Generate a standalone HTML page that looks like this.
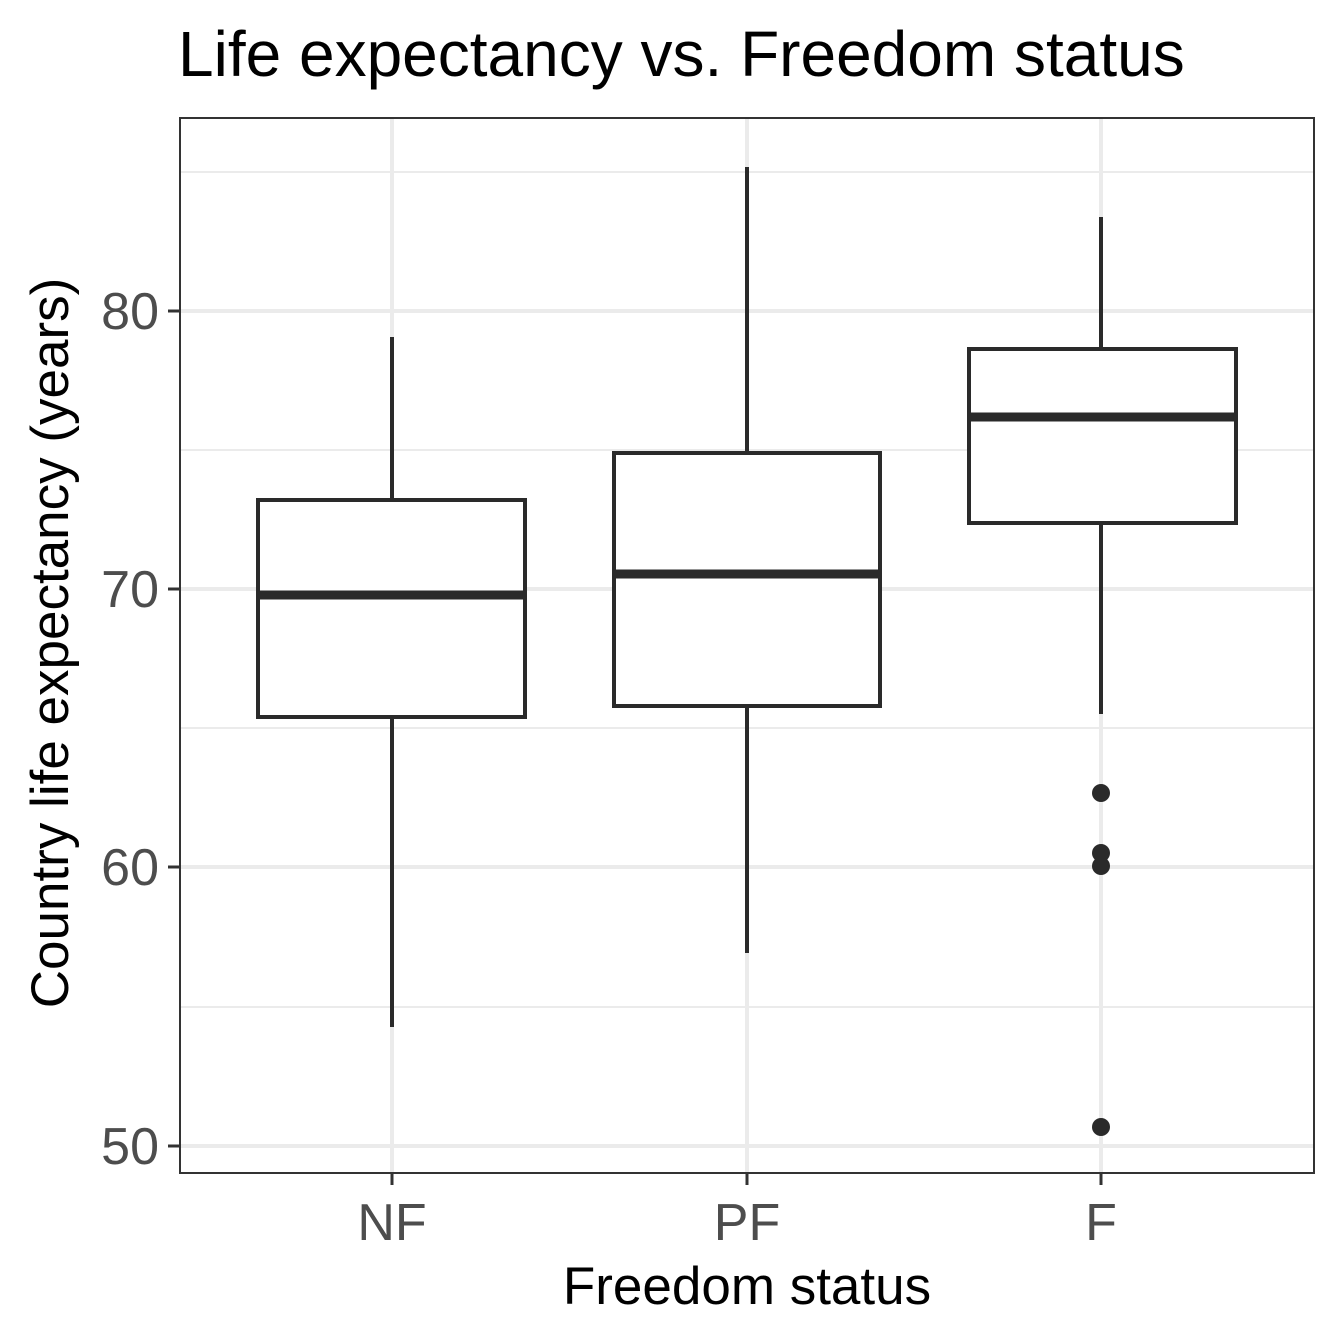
<!DOCTYPE html>
<html><head><style>body{margin:0;background:#fff}svg{display:block}</style></head><body>
<svg width="1344" height="1344" xmlns="http://www.w3.org/2000/svg" font-family="Liberation Sans, Arial, sans-serif">
<rect width="1344" height="1344" fill="#fff"/>
<g stroke="#ebebeb" stroke-width="2">
<line x1="180" x2="1314" y1="172" y2="172"/><line x1="180" x2="1314" y1="450" y2="450"/>
<line x1="180" x2="1314" y1="728" y2="728"/><line x1="180" x2="1314" y1="1007" y2="1007"/>
</g>
<g stroke="#ebebeb" stroke-width="4">
<line x1="180" x2="1314" y1="311" y2="311"/><line x1="180" x2="1314" y1="589" y2="589"/>
<line x1="180" x2="1314" y1="867" y2="867"/><line x1="180" x2="1314" y1="1146" y2="1146"/>
<line x1="392" x2="392" y1="118" y2="1173"/><line x1="747" x2="747" y1="118" y2="1173"/><line x1="1101" x2="1101" y1="118" y2="1173"/>
</g>
<g stroke="#2a2a2a" stroke-width="4" fill="#fff">
<line x1="392" x2="392" y1="337" y2="1027"/>
<rect x="258" y="500" width="267" height="217"/>
<line x1="258" x2="525" y1="595" y2="595" stroke-width="9"/>
<line x1="747" x2="747" y1="167" y2="953"/>
<rect x="614" y="453" width="266" height="253"/>
<line x1="614" x2="880" y1="574" y2="574" stroke-width="9"/>
<line x1="1101" x2="1101" y1="217" y2="714"/>
<rect x="969" y="349" width="267" height="174"/>
<line x1="969" x2="1236" y1="417" y2="417" stroke-width="9"/>
</g>
<g fill="#2a2a2a">
<circle cx="1101" cy="793" r="9"/><circle cx="1101" cy="853" r="9"/><circle cx="1101" cy="866" r="9"/><circle cx="1101" cy="1127" r="9"/>
</g>
<rect x="180" y="118" width="1134" height="1055" fill="none" stroke="#333" stroke-width="2"/>
<g stroke="#333" stroke-width="3">
<line x1="168" x2="180" y1="311" y2="311"/><line x1="168" x2="180" y1="589" y2="589"/><line x1="168" x2="180" y1="867" y2="867"/><line x1="168" x2="180" y1="1146" y2="1146"/>
<line x1="392" x2="392" y1="1173" y2="1185"/><line x1="747" x2="747" y1="1173" y2="1185"/><line x1="1101" x2="1101" y1="1173" y2="1185"/>
</g>
<g fill="#4d4d4d" font-size="52" text-anchor="end">
<text x="159" y="329">80</text><text x="159" y="607">70</text><text x="159" y="885">60</text><text x="159" y="1164">50</text>
</g>
<g fill="#4d4d4d" font-size="52" text-anchor="middle">
<text x="392" y="1240">NF</text><text x="747" y="1240">PF</text><text x="1101" y="1240">F</text>
</g>
<text x="747" y="1304" font-size="53" text-anchor="middle" fill="#000">Freedom status</text>
<text transform="translate(68,643) rotate(-90)" font-size="53" text-anchor="middle" fill="#000">Country life expectancy (years)</text>
<text x="178" y="76" font-size="64" fill="#000">Life expectancy vs. Freedom status</text>
</svg>
</body></html>
